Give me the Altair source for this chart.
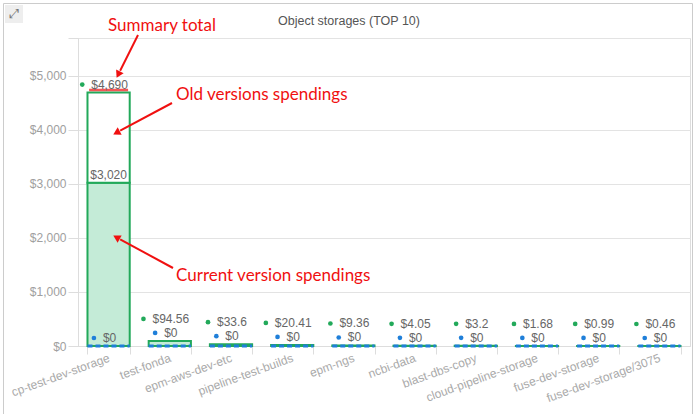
import altair as alt
import pandas as pd
import math

names = ["cp-test-dev-storage", "test-fonda", "epm-aws-dev-etc", "pipeline-test-builds",
         "epm-ngs", "ncbi-data", "blast-dbs-copy", "cloud-pipeline-storage",
         "fuse-dev-storage", "fuse-dev-storage/3075"]
current = [3020, 94.56, 33.6, 20.41, 9.36, 4.05, 3.2, 1.68, 0.99, 0.46]
old = [1670, 0, 0, 0, 0, 0, 0, 0, 0, 0]
previous = [0, 0, 0, 0, 0, 0, 0, 0, 0, 0]
chart_title = "Object storages (TOP 10)"

W, H = 612, 308
STEP = W / len(names)

def money(v):
    s = f"{v:,.2f}"
    if "." in s:
        s = s.rstrip("0").rstrip(".")
    return "$" + s

CHAR_W = {",": 3.336, ".": 3.336}
def text_w(s):
    return sum(CHAR_W.get(c, 6.674) for c in s)

rows = []
for i, n in enumerate(names):
    tot = current[i] + old[i]
    tl = money(tot)
    pl = money(previous[i])
    big = tot > 1000
    rows.append(dict(
        name=n, idx=i, current=current[i], old=old[i], total=tot, prev=previous[i],
        total_label=tl, prev_label=pl, cur_label=money(current[i]),
        big=big,
        xc=i + 0.5 + 1 / STEP,
        x_gdot=i + 0.5 - (text_w(tl) / 2 + 8) / STEP,
        x_bdot=i + 0.5 - (text_w(pl) / 2 + 8) / STEP,
        x_l=i + 0.5 - 0.345, x_r=i + 0.5 + 0.345,
        prev_anchor=previous[i] if big else tot,
    ))
df = pd.DataFrame(rows)

GREEN = "#22a95a"
LIGHT = "#c4ebd7"
BLUE = "#1f7fd9"
TXT = "#666666"
RED = "#f01010"
FONT = "Liberation Sans"

yscale = alt.Scale(domain=[0, 5700], nice=False)
yax = alt.Axis(values=[0, 1000, 2000, 3000, 4000, 5000, 5700],
               labelExpr="datum.value > 5000 ? '' : '$' + format(datum.value, ',')",
               title=None, gridColor="#e3e3e3", domainColor="#dddddd", tickColor="#dddddd",
               tickSize=10, labelColor="#a0a0a0", labelFontSize=12, labelPadding=2,
               labelFont=FONT)

xband = alt.X("name:N", sort=names, title=None,
              scale=alt.Scale(paddingInner=0.31, paddingOuter=0.155),
              axis=alt.Axis(labelAngle=-20, labelAlign="right", labelBaseline="middle",
                            tickBand="extent", labelColor="#aaaaaa",
                            labelFontSize=12, labelFont=FONT, tickColor="#dddddd",
                            domainColor="#dddddd", tickSize=8, labelPadding=3,
                            labelLimit=200, labelOverlap=False))

base = alt.Chart(df)

cur_bar = base.mark_bar(fill=LIGHT, stroke=GREEN, strokeWidth=2).encode(
    x=xband, y=alt.Y("current:Q", scale=yscale, axis=yax), y2=alt.value(H))
old_bar = base.transform_filter("datum.old > 0").mark_bar(fill="white", stroke=GREEN, strokeWidth=2).encode(
    x=xband, y=alt.Y("total:Q", scale=yscale, axis=yax), y2="current:Q")
red_tick = base.transform_filter("datum.old > 0").mark_tick(
    color=RED, thickness=2.5, size=39, yOffset=-2.5).encode(
    x=xband, y=alt.Y("total:Q", scale=yscale, axis=yax))
cur_lbl = base.transform_filter("datum.old > 0").mark_text(
    color=TXT, fontSize=12, font=FONT, baseline="middle", yOffset=-8).encode(
    x=xband, y=alt.Y("current:Q", scale=yscale, axis=yax), text="cur_label:N")

band_layer = alt.layer(cur_bar, old_bar, red_tick, cur_lbl)

xq = lambda f: alt.X(f + ":Q", scale=alt.Scale(domain=[0, 10], nice=False, zero=False), axis=None)
yq = lambda f: alt.Y(f + ":Q", scale=yscale, axis=yax)

blue_rule = base.mark_rule(color=BLUE, strokeWidth=3, strokeDash=[5, 3]).encode(
    x=xq("x_l"), x2="x_r:Q", y=yq("prev"))

green_lbl_big = base.transform_filter("datum.big").mark_text(
    color=TXT, fontSize=12, font=FONT, baseline="middle", yOffset=-8).encode(
    x=xq("xc"), y=yq("total"), text="total_label:N")
green_dot_big = base.transform_filter("datum.big").mark_circle(
    color=GREEN, size=22, opacity=1, yOffset=-8).encode(x=xq("x_gdot"), y=yq("total"))
green_lbl_small = base.transform_filter("!datum.big").mark_text(
    color=TXT, fontSize=12, font=FONT, baseline="middle", yOffset=-22).encode(
    x=xq("xc"), y=yq("total"), text="total_label:N")
green_dot_small = base.transform_filter("!datum.big").mark_circle(
    color=GREEN, size=22, opacity=1, yOffset=-22).encode(x=xq("x_gdot"), y=yq("total"))
blue_lbl = base.mark_text(color=TXT, fontSize=12, font=FONT, baseline="middle", yOffset=-8).encode(
    x=xq("xc"), y=yq("prev_anchor"), text="prev_label:N")
blue_dot = base.mark_circle(color=BLUE, size=22, opacity=1, yOffset=-8).encode(
    x=xq("x_bdot"), y=yq("prev_anchor"))

quant_layer = alt.layer(blue_rule, green_dot_big, green_lbl_big, green_dot_small,
                        green_lbl_small, blue_dot, blue_lbl)

one = alt.Data(values=[{}])
OX, OY = 78, 38

def px(x, y):
    return dict(x=alt.value(x - OX), y=alt.value(y - OY))

border = alt.Chart(one).mark_rect(fill="transparent", stroke="#cccccc", strokeWidth=1).encode(
    x=alt.value(3.5 - OX), x2=alt.value(692.5 - OX), y=alt.value(3.5 - OY), y2=alt.value(420 - OY))
icon_box = alt.Chart(one).mark_rect(fill="#eeeeee").encode(
    x=alt.value(5 - OX), x2=alt.value(23 - OX), y=alt.value(5 - OY), y2=alt.value(23 - OY))
icon = alt.Chart(one).mark_text(text="⤢", color="#777777", fontSize=13, font="DejaVu Sans",
                                baseline="middle").encode(**px(14, 14))
title_mark = alt.Chart(one).mark_text(text=chart_title, color="#555555", fontSize=12.5, font=FONT,
                                      baseline="middle").encode(**px(349, 21))

annots = []
notes = [("Summary total", 108, 26), ("Old versions spendings", 176, 95),
         ("Current version spendings", 176, 276)]
for t, x, y in notes:
    annots.append(alt.Chart(one).mark_text(text=t, color=RED, fontSize=17, font="Lato",
                                           align="left", baseline="middle").encode(**px(x, y)))
arrows = [((138, 35), (117, 77), 206.6), ((172, 103), (114, 134), 242),
          ((173, 268), (114, 236), 299)]
for (x1, y1), (x2, y2), ang in arrows:
    d = math.hypot(x2 - x1, y2 - y1)
    ux, uy = (x2 - x1) / d, (y2 - y1) / d
    hx, hy = x2 - ux * 4, y2 - uy * 4
    annots.append(alt.Chart(one).mark_rule(color=RED, strokeWidth=2).encode(
        x=alt.value(x1 - OX), y=alt.value(y1 - OY),
        x2=alt.value(hx - ux * 3 - OX), y2=alt.value(hy - uy * 3 - OY)))
    annots.append(alt.Chart(one).mark_point(shape="triangle", filled=True, color=RED, size=70,
                                            opacity=1, angle=ang).encode(
        x=alt.value(hx - OX), y=alt.value(hy - OY)))

chart = alt.layer(border, icon_box, icon, title_mark, band_layer, quant_layer, *annots).resolve_scale(
    x="independent").properties(
    width=W, height=H,
    autosize=alt.AutoSizeParams(type="none"),
    padding={"left": OX, "top": OY, "right": 697 - OX - W, "bottom": 414 - OY - H},
).configure_view(strokeWidth=0).configure(background="white")

chart.save("out.html", embed_options={"renderer": "svg", "actions": False})
